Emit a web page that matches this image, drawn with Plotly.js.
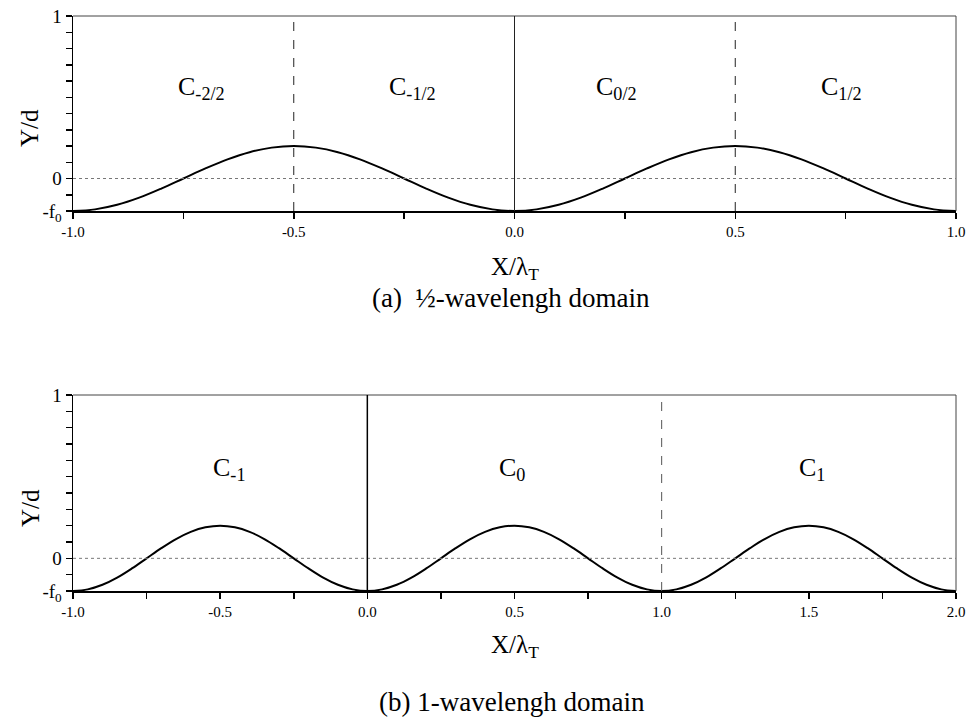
<!DOCTYPE html>
<html>
<head>
<meta charset="utf-8">
<script src="https://cdn.plot.ly/plotly-3.0.1.min.js"></script>
<style>
html,body{margin:0;padding:0;background:#fff;}
#chart{width:968px;height:718px;}
</style>
</head>
<body>
<div id="chart"></div>
<script>
// ---- data ----
// (a) half-wavelength domain: surface profile Y/d vs X/lambda_T
const topX = [-1.00,-0.95,-0.90,-0.85,-0.80,-0.75,-0.70,-0.65,-0.60,-0.55,-0.50,-0.45,-0.40,-0.35,-0.30,-0.25,-0.20,-0.15,-0.10,-0.05,
               0.00, 0.05, 0.10, 0.15, 0.20, 0.25, 0.30, 0.35, 0.40, 0.45, 0.50, 0.55, 0.60, 0.65, 0.70, 0.75, 0.80, 0.85, 0.90, 0.95, 1.00];
const topY = [-0.200,-0.190,-0.162,-0.118,-0.062,0.000,0.062,0.118,0.162,0.190,0.200,0.190,0.162,0.118,0.062,0.000,-0.062,-0.118,-0.162,-0.190,
              -0.200,-0.190,-0.162,-0.118,-0.062,0.000,0.062,0.118,0.162,0.190,0.200,0.190,0.162,0.118,0.062,0.000,-0.062,-0.118,-0.162,-0.190,-0.200];
// (b) one-wavelength domain
const botX = [-1.00,-0.95,-0.90,-0.85,-0.80,-0.75,-0.70,-0.65,-0.60,-0.55,-0.50,-0.45,-0.40,-0.35,-0.30,-0.25,-0.20,-0.15,-0.10,-0.05,
               0.00, 0.05, 0.10, 0.15, 0.20, 0.25, 0.30, 0.35, 0.40, 0.45, 0.50, 0.55, 0.60, 0.65, 0.70, 0.75, 0.80, 0.85, 0.90, 0.95,
               1.00, 1.05, 1.10, 1.15, 1.20, 1.25, 1.30, 1.35, 1.40, 1.45, 1.50, 1.55, 1.60, 1.65, 1.70, 1.75, 1.80, 1.85, 1.90, 1.95, 2.00];
const botY = [-0.200,-0.190,-0.162,-0.118,-0.062,0.000,0.062,0.118,0.162,0.190,0.200,0.190,0.162,0.118,0.062,0.000,-0.062,-0.118,-0.162,-0.190,
              -0.200,-0.190,-0.162,-0.118,-0.062,0.000,0.062,0.118,0.162,0.190,0.200,0.190,0.162,0.118,0.062,0.000,-0.062,-0.118,-0.162,-0.190,
              -0.200,-0.190,-0.162,-0.118,-0.062,0.000,0.062,0.118,0.162,0.190,0.200,0.190,0.162,0.118,0.062,0.000,-0.062,-0.118,-0.162,-0.190,-0.200];

// tick values / labels
const yTickVals = [-0.2,-0.1,0,0.1,0.2,0.3,0.4,0.5,0.6,0.7,0.8,0.9,1.0];
const yTickText = ['-f<sub>0</sub>','','0','','','','','','','','','','1'];
const topXTickVals = [-1,-0.75,-0.5,-0.25,0,0.25,0.5,0.75,1];
const topXTickText = ['-1.0','','-0.5','','0.0','','0.5','','1.0'];
const botXTickVals = [-1,-0.75,-0.5,-0.25,0,0.25,0.5,0.75,1,1.25,1.5,1.75,2];
const botXTickText = ['-1.0','','-0.5','','0.0','','0.5','','1.0','','1.5','','2.0'];

// domain boundaries (vertical separators)
const topDashed = [-0.5, 0.5];
const topSolid  = [0];
const botDashed = [1];
const botSolid  = [0];

// region labels
const topLabelText = ['C<sub>-2/2</sub>','C<sub>-1/2</sub>','C<sub>0/2</sub>','C<sub>1/2</sub>'];
const topLabelX    = [-0.71,-0.23,0.23,0.74];
const topLabelY    = [0.56,0.56,0.56,0.56];
const botLabelText = ['C<sub>-1</sub>','C<sub>0</sub>','C<sub>1</sub>'];
const botLabelX    = [-0.47,0.49,1.51];
const botLabelY    = [0.55,0.55,0.55];

const captionA = '(a)  \u00BD-wavelengh domain';
const captionB = '(b) 1-wavelengh domain';
const xTitle = 'X/\u03BB<sub>T</sub>';
const yTitle = 'Y/d';

// ---- layout ----
const W = 968, H = 718;
const FONT = 'Liberation Serif';
const px2x = p => p / W;
const px2y = p => 1 - p / H;

const xDom = [px2x(73), px2x(956)];
const topDom = [px2y(211), px2y(16)];
const botDom = [px2y(591), px2y(395)];

function xAxis(vals, text, rng, anchor) {
  return {
    domain: xDom, range: rng, anchor: anchor,
    tickmode: 'array', tickvals: vals, ticktext: text,
    ticks: 'outside', ticklen: 6, tickwidth: 1.5, tickcolor: '#000',
    showline: true, linecolor: '#000', linewidth: 1.5, mirror: false,
    showgrid: false, zeroline: false,
    tickfont: {family: FONT, size: 15, color: '#000'},
    fixedrange: true
  };
}
function yAxis(dom, anchor) {
  return {
    domain: dom, range: [-0.2, 1], anchor: anchor,
    tickmode: 'array', tickvals: yTickVals, ticktext: yTickText,
    ticks: 'outside', ticklen: 6, tickwidth: 1.5, tickcolor: '#000',
    showline: true, linecolor: '#000', linewidth: 1.5, mirror: false,
    showgrid: false, zeroline: false,
    tickfont: {family: FONT, size: 19, color: '#000'},
    fixedrange: true
  };
}

const traces = [
  {x: topX, y: topY, xaxis: 'x', yaxis: 'y', mode: 'lines',
   line: {color: '#000', width: 2, shape: 'spline'}, hoverinfo: 'skip', showlegend: false},
  {x: botX, y: botY, xaxis: 'x2', yaxis: 'y2', mode: 'lines',
   line: {color: '#000', width: 2, shape: 'spline'}, hoverinfo: 'skip', showlegend: false}
];

const shapes = [];
[['x','y'],['x2','y2']].forEach(([xa,ya]) => {
  shapes.push({type:'line', xref: xa+' domain', yref: ya+' domain', x0:0, x1:1, y0:1, y1:1, line:{color:'#444', width:1}});
  shapes.push({type:'line', xref: xa+' domain', yref: ya+' domain', x0:1, x1:1, y0:0, y1:1, line:{color:'#444', width:1}});
  shapes.push({type:'line', xref: xa+' domain', yref: ya, x0:0, x1:1, y0:0, y1:0, line:{color:'#777', width:1, dash:'dot'}});
});
topDashed.forEach(v => shapes.push({type:'line', xref:'x', yref:'y domain', x0:v, x1:v, y0:0, y1:1, line:{color:'#222', width:1, dash:'dash'}}));
topSolid.forEach(v => shapes.push({type:'line', xref:'x', yref:'y domain', x0:v, x1:v, y0:0, y1:1, line:{color:'#222', width:1}}));
botDashed.forEach(v => shapes.push({type:'line', xref:'x2', yref:'y2 domain', x0:v, x1:v, y0:0, y1:1, line:{color:'#555', width:1, dash:'dash'}}));
botSolid.forEach(v => shapes.push({type:'line', xref:'x2', yref:'y2 domain', x0:v, x1:v, y0:0, y1:1, line:{color:'#000', width:1.5}}));

const annotations = [];
const ann = (o) => Object.assign({showarrow:false, xanchor:'center', yanchor:'middle'}, o);
topLabelText.forEach((t,i) => annotations.push(ann({text:t, x:topLabelX[i], y:topLabelY[i], xref:'x', yref:'y', font:{family:FONT, size:26, color:'#000'}})));
botLabelText.forEach((t,i) => annotations.push(ann({text:t, x:botLabelX[i], y:botLabelY[i], xref:'x2', yref:'y2', font:{family:FONT, size:26, color:'#000'}})));
[128, 508].forEach(yc => annotations.push(ann({text:yTitle, textangle:-90, x:px2x(30), y:px2y(yc), xref:'paper', yref:'paper', font:{family:FONT, size:25, color:'#000'}})));
[268, 646].forEach(yc => annotations.push(ann({text:xTitle, x:px2x(515), y:px2y(yc), xref:'paper', yref:'paper', font:{family:FONT, size:25, color:'#000'}})));
annotations.push(ann({text:captionA, x:px2x(511), y:px2y(298), xref:'paper', yref:'paper', font:{family:FONT, size:27, color:'#000'}}));
annotations.push(ann({text:captionB, x:px2x(512), y:px2y(702), xref:'paper', yref:'paper', font:{family:FONT, size:27, color:'#000'}}));

const layout = {
  width: W, height: H,
  margin: {l:0, r:0, t:0, b:0},
  paper_bgcolor: '#fff', plot_bgcolor: '#fff',
  showlegend: false,
  xaxis: xAxis(topXTickVals, topXTickText, [-1, 1], 'y'),
  yaxis: yAxis(topDom, 'x'),
  xaxis2: xAxis(botXTickVals, botXTickText, [-1, 2], 'y2'),
  yaxis2: yAxis(botDom, 'x2'),
  shapes: shapes,
  annotations: annotations
};

Plotly.newPlot('chart', traces, layout, {staticPlot: true, displayModeBar: false});
</script>
</body>
</html>
